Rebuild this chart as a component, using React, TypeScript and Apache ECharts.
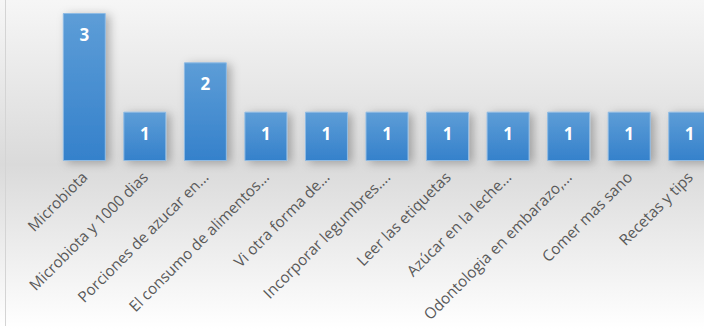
import React, { useEffect, useRef } from "react";
import * as echarts from "echarts";

const categories = [
  "Microbiota",
  "Microbiota y 1000 dias",
  "Porciones de azucar en...",
  "El consumo de alimentos...",
  "Vi otra forma de...",
  "Incorporar legumbres....",
  "Leer las etiquetas",
  "Azúcar en la leche...",
  "Odontologia en embarazo,...",
  "Comer mas sano",
  "Recetas y tips",
];
const values = [3, 1, 2, 1, 1, 1, 1, 1, 1, 1, 1];

export default function App() {
  const ref = useRef<HTMLDivElement>(null);
  useEffect(() => {
    if (!ref.current) return;
    const chart = echarts.init(ref.current, null, { renderer: "svg" });
    chart.setOption({
      animation: false,
      grid: {
        left: 54,
        right: 0,
        top: 13,
        bottom: 168,
        containLabel: false,
        outerBoundsMode: "none",
      },
      graphic: [
        {
          type: "line",
          shape: { x1: 5.5, y1: 0, x2: 5.5, y2: 326 },
          style: { stroke: "#d4d4d4", lineWidth: 1 },
          silent: true,
        },
      ],
      xAxis: {
        type: "category",
        data: categories,
        axisLine: { show: false },
        axisTick: { show: false },
        axisLabel: {
          rotate: 45,
          interval: 0,
          margin: 13,
          color: "#595959",
          fontSize: 15.3,
          fontFamily: "Open Sans",
        },
      },
      yAxis: {
        type: "value",
        min: 0,
        max: 3,
        show: false,
        splitLine: { show: false },
      },
      series: [
        {
          type: "bar",
          data: values,
          barCategoryGap: "29%",
          itemStyle: {
            color: new echarts.graphic.LinearGradient(0, 0, 0, 1, [
              { offset: 0, color: "#5d9dd7" },
              { offset: 1, color: "#3581cb" },
            ]),
            borderColor: "#8fbbe4",
            borderWidth: 1,
            shadowBlur: 10,
            shadowColor: "rgba(0,0,0,0.28)",
            shadowOffsetX: 4,
            shadowOffsetY: 2,
          },
          label: {
            show: true,
            position: "insideTop",
            distance: 13,
            color: "#ffffff",
            fontWeight: "bold",
            fontSize: 17,
            fontFamily: "Open Sans",
          },
        },
      ],
    });
    return () => chart.dispose();
  }, []);
  return (
    <div
      style={{
        position: "absolute",
        left: 0,
        top: 0,
        width: 704,
        height: 329,
        overflow: "hidden",
        background:
          "linear-gradient(to bottom, #f6f6f6 0%, #dadada 50%, #ffffff 100%)",
      }}
    >
      <div ref={ref} style={{ width: 720, height: 329 }} />
    </div>
  );
}
